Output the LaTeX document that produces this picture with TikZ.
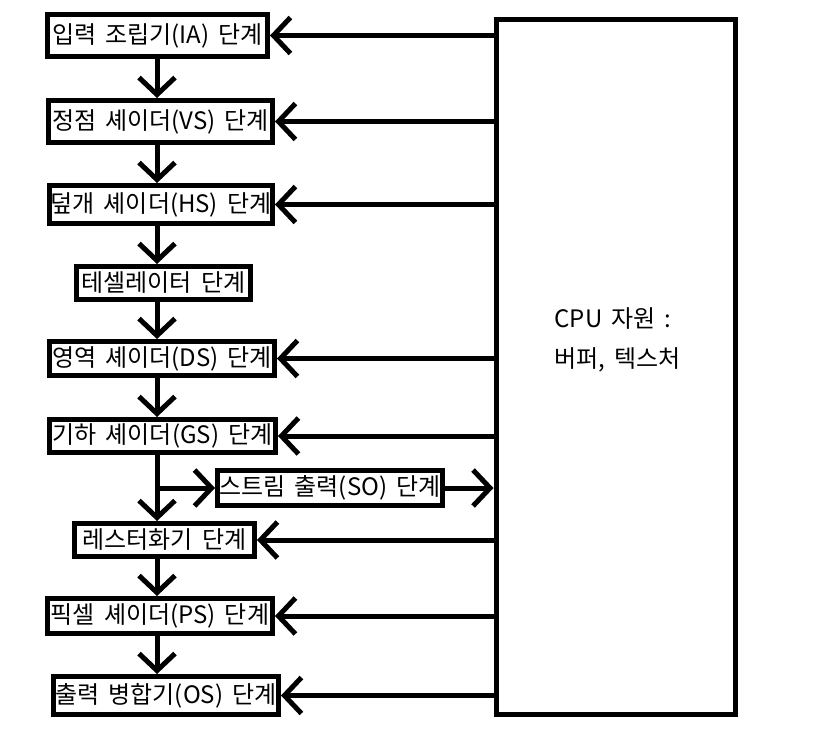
\documentclass[tikz,border=0pt]{standalone}
\usepackage{fontspec}
\setmainfont{Noto Sans CJK KR}[WordSpace=1.7]
\usetikzlibrary{arrows.meta}

\tikzset{
  stage/.style={draw, line width=5, inner sep=0, font=\fontsize{24}{28}\selectfont},
  flow/.style={line width=5, -{Straight Barb[length=17pt,width=36pt]}}
}

\begin{document}
\begin{tikzpicture}[x=1pt,y=-1pt]
  \useasboundingbox (0,0) rectangle (814,747);

  % CPU resources
  \node[draw, line width=5, minimum width=239, minimum height=695, inner sep=0] (cpu) at (615.5,366.5) {};
  \node[anchor=west, align=left, font=\fontsize{24}{40}\selectfont] (cpulbl) at (551,340) {CPU 자원 :\\버퍼, 텍스처};

  % Pipeline stages
  \node[stage, minimum width=220, minimum height=42] (ia) at (157.5,35.5) {입력 조립기(IA) 단계};
  \node[stage, minimum width=224, minimum height=42] (vs) at (160.5,121.5) {정점 셰이더(VS) 단계};
  \node[stage, minimum width=223, minimum height=38] (hs) at (161,204.5) {덮개 셰이더(HS) 단계};
  \node[stage, minimum width=174, minimum height=33] (ts) at (163.5,283) {테셀레이터 단계};
  \node[stage, minimum width=225, minimum height=34] (ds) at (162,358.5) {영역 셰이더(DS) 단계};
  \node[stage, minimum width=226, minimum height=33] (gs) at (162.5,436) {기하 셰이더(GS) 단계};
  \node[stage, minimum width=225, minimum height=35] (so) at (330,488) {스트림 출력(SO) 단계};
  \node[stage, minimum width=180, minimum height=33] (rs) at (164.5,540) {레스터화기 단계};
  \node[stage, minimum width=225, minimum height=35] (ps) at (160,616) {픽셀 셰이더(PS) 단계};
  \node[stage, minimum width=225, minimum height=38] (om) at (166,695.5) {출력 병합기(OS) 단계};

  \coordinate (col) at (157,0);
  \coordinate (br) at (col |- so.west);

  % down the pipeline
  \draw[flow] (col |- ia.south) -- (col |- vs.north);
  \draw[flow] (col |- vs.south) -- (col |- hs.north);
  \draw[flow] (col |- hs.south) -- (col |- ts.north);
  \draw[flow] (col |- ts.south) -- (col |- ds.north);
  \draw[flow] (col |- ds.south) -- (col |- gs.north);
  \draw[flow] (col |- gs.south) -- (col |- rs.north);
  \draw[flow] (col |- rs.south) -- (col |- ps.north);
  \draw[flow] (col |- ps.south) -- (col |- om.north);

  % stream output branch
  \draw[flow] (br) -- (so.west);
  \draw[flow] (so.east) -- (cpu.west |- so.east);

  % resources into the stages
  \foreach \s in {ia,vs,hs,ds,gs,rs,ps,om}
    \draw[flow] (cpu.west |- \s.east) -- (\s.east);
\end{tikzpicture}
\end{document}
